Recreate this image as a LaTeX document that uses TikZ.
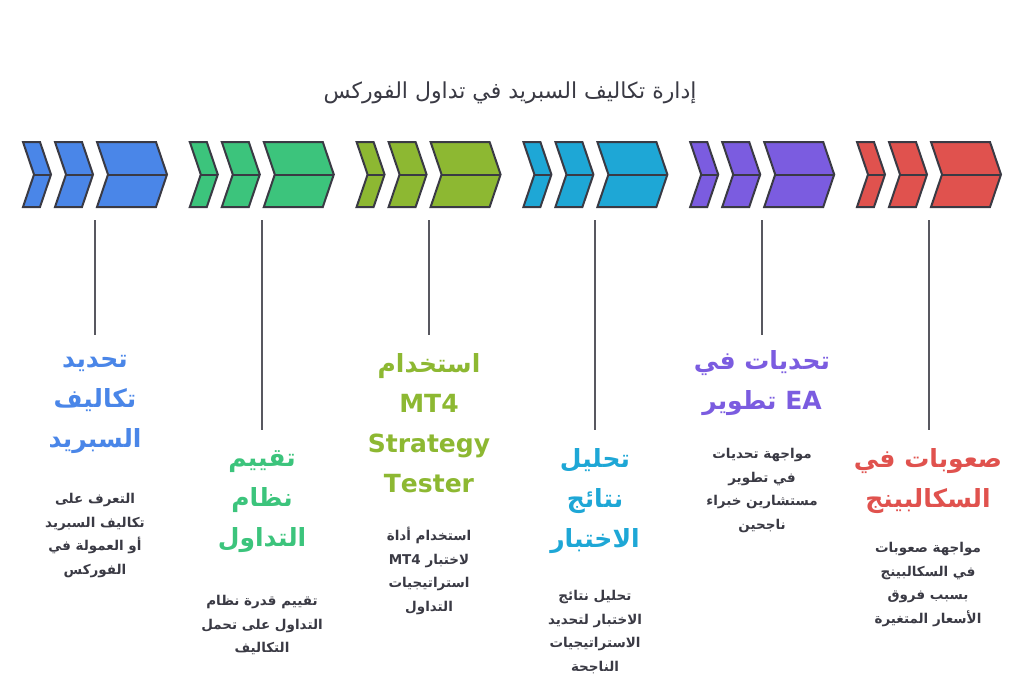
\documentclass[tikz,border=0pt]{standalone}
\usepackage{fontspec}
\usetikzlibrary{calc}
\newfontfamily\arabicfont[Script=Arabic]{DejaVu Sans}
\TeXXeTstate=1
\newcommand{\ar}[1]{\beginR #1\endR}
\newcommand{\lat}[1]{\beginL #1\endL{}}
\definecolor{cblue}{HTML}{4A86E8}
\definecolor{cgreen}{HTML}{3CC47C}
\definecolor{colive}{HTML}{8DB832}
\definecolor{ccyan}{HTML}{1EA7D6}
\definecolor{cpurple}{HTML}{7B5CE0}
\definecolor{cred}{HTML}{E0524E}
\definecolor{cdark}{HTML}{3A3A44}
\tikzset{
    chev/.style={draw=cdark, line width=2pt, line join=miter},
    stem/.style={draw=cdark!85, line width=2pt},
    head/.style={font=\arabicfont\bfseries\fontsize{25}{40}\selectfont, align=center},
    desc/.style={font=\arabicfont\bfseries\fontsize{13.5}{23.5}\selectfont, align=center, text=cdark},
    title/.style={font=\arabicfont\fontsize{22}{24}\selectfont, text=cdark}}
% one chevron: left x, tip x, colour
\newcommand{\chevron}[3]{%
    \filldraw[chev, fill=#3] (#1,142) -- (#2-11,142) -- (#2,174.5) -- (#2-11,207)
        -- (#1,207) -- (#1+11,174.5) -- cycle;
    \draw[chev] (#1+11,174.5) -- (#2,174.5);}
\begin{document}
\begin{tikzpicture}[x=1pt, y=-1pt]
    \useasboundingbox (0,0) rectangle (1024,683);
    \node[title] (ttl) at (510,93) {\ar{إدارة تكاليف السبريد في تداول الفوركس}};
    % chevron groups and stems
    \foreach \c [count=\i from 0] in {cblue, cgreen, colive, ccyan, cpurple, cred} {
        \pgfmathsetmacro{\ox}{166.8*\i}
        \chevron{\ox+23}{\ox+51}{\c}
        \chevron{\ox+55}{\ox+93}{\c}
        \chevron{\ox+97}{\ox+167}{\c}
        \coordinate (top\i) at (\ox+95,220);
    }
    \foreach \i/\y in {0/335, 1/430, 2/335, 3/430, 4/335, 5/430} {
        \coordinate (end\i) at ($(top\i)+(0,\y-220)$);
        \draw[stem] (top\i) -- (end\i);
    }
    % headings
    \node[head, text=cblue, anchor=north] (h0) at (95,352) {\ar{تحديد}\\\ar{تكاليف}\\\ar{السبريد}};
    \node[head, text=cgreen, anchor=north] (h1) at (262,447) {\ar{تقييم}\\\ar{نظام}\\\ar{التداول}};
    \node[head, text=colive, anchor=north] (h2) at (429,350) {\ar{استخدام}\\MT4\\Strategy\\Tester};
    \node[head, text=ccyan, anchor=north] (h3) at (595,445) {\ar{تحليل}\\\ar{نتائج}\\\ar{الاختبار}};
    \node[head, text=cpurple, anchor=north] (h4) at (762,347) {\ar{تحديات في}\\\ar{\lat{EA} تطوير}};
    \node[head, text=cred, anchor=north] (h5) at (928,445) {\ar{صعوبات في}\\\ar{السكالبينج}};
    % descriptions
    \node[desc, anchor=north] (d0) at (95,490) {\ar{التعرف على}\\\ar{تكاليف السبريد}\\\ar{أو العمولة في}\\\ar{الفوركس}};
    \node[desc, anchor=north] (d1) at (262,592) {\ar{تقييم قدرة نظام}\\\ar{التداول على تحمل}\\\ar{التكاليف}};
    \node[desc, anchor=north] (d2) at (429,524) {\ar{استخدام أداة}\\\ar{لاختبار \lat{MT4}}\\\ar{استراتيجيات}\\\ar{التداول}};
    \node[desc, anchor=north] (d3) at (595,587) {\ar{تحليل نتائج}\\\ar{الاختبار لتحديد}\\\ar{الاستراتيجيات}\\\ar{الناجحة}};
    \node[desc, anchor=north] (d4) at (762,445) {\ar{مواجهة تحديات}\\\ar{في تطوير}\\\ar{مستشارين خبراء}\\\ar{ناجحين}};
    \node[desc, anchor=north] (d5) at (928,539) {\ar{مواجهة صعوبات}\\\ar{في السكالبينج}\\\ar{بسبب فروق}\\\ar{الأسعار المتغيرة}};
\end{tikzpicture}
\end{document}
